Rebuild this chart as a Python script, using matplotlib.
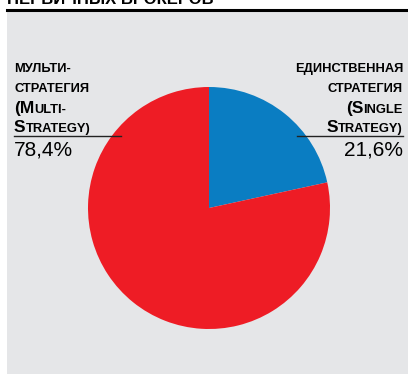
import matplotlib.pyplot as plt
from matplotlib.patches import Rectangle
from matplotlib.lines import Line2D

W, H = 408, 374

shares = [21.6, 78.4]
colors = ['#0a7dc2', '#ee1c25']
value_labels = ['21,6%', '78,4%']
left_lines = [('МУЛЬТИ-', ''), ('СТРАТЕГИЯ', ''), ('(M', 'ULTI-'), ('S', 'TRATEGY)')]
right_lines = [('ЕДИНСТВЕННАЯ', ''), ('СТРАТЕГИЯ', ''), ('(S', 'INGLE'), ('S', 'TRATEGY)')]
title = 'ПЕРВИЧНЫХ БРОКЕРОВ'

plt.rcParams['font.family'] = ['Liberation Sans', 'DejaVu Sans']

fig = plt.figure(figsize=(W / 100, H / 100), dpi=100)
fig.patch.set_facecolor('white')


def px(x, y):
    return x / W, 1 - y / H


# grey panel and black rule on top
fig.patches.append(Rectangle(px(7, H), (W - 7) / W, (H - 11) / H,
                             transform=fig.transFigure, facecolor='#e5e6e8',
                             edgecolor='none', zorder=-5))
fig.lines.append(Line2D([7 / W, 1], [1 - 9.5 / H] * 2, transform=fig.transFigure,
                        color='black', lw=2.2, zorder=1))
fig.text(*px(7, 4.5), title, fontsize=12, fontweight='bold', va='baseline',
         ha='left', color='black')

ax = fig.add_axes([88 / W, 45 / H, 242 / W, 242 / H])
ax.set_zorder(2)
ax.pie(shares, colors=colors, startangle=90, counterclock=False,
       wedgeprops=dict(linewidth=0))
ax.set_xlim(-1, 1)
ax.set_ylim(-1, 1)
ax.axis('off')

big, small = 12.5, 9.3


def label_line(x, y, parts, ha):
    first, rest = parts
    if not rest:
        fig.text(*px(x, y), first, fontsize=small, fontweight='bold',
                 ha=ha, va='baseline')
        return
    r = fig.canvas.get_renderer()
    t1 = fig.text(0, 0, first, fontsize=big, fontweight='bold', va='baseline')
    t2 = fig.text(0, 0, rest, fontsize=small, fontweight='bold', va='baseline')
    w1 = t1.get_window_extent(r).width
    w2 = t2.get_window_extent(r).width
    x0 = x if ha == 'left' else x - w1 - w2
    t1.set_position(px(x0, y))
    t2.set_position(px(x0 + w1, y))


ys = [72, 92, 113, 132]
for y, parts in zip(ys, left_lines):
    label_line(14, y, parts, 'left')
for y, parts in zip(ys, right_lines):
    label_line(403, y, parts, 'right')

fig.lines.append(Line2D([14 / W, 121 / W], [1 - 136 / H] * 2,
                        transform=fig.transFigure, color='#222222', lw=1))
fig.lines.append(Line2D([297 / W, 403 / W], [1 - 136 / H] * 2,
                        transform=fig.transFigure, color='#222222', lw=1))
fig.text(*px(14, 155), value_labels[1], fontsize=15, ha='left', va='baseline')
fig.text(*px(403, 155), value_labels[0], fontsize=15, ha='right', va='baseline')

fig.savefig('out.png', dpi=100)
